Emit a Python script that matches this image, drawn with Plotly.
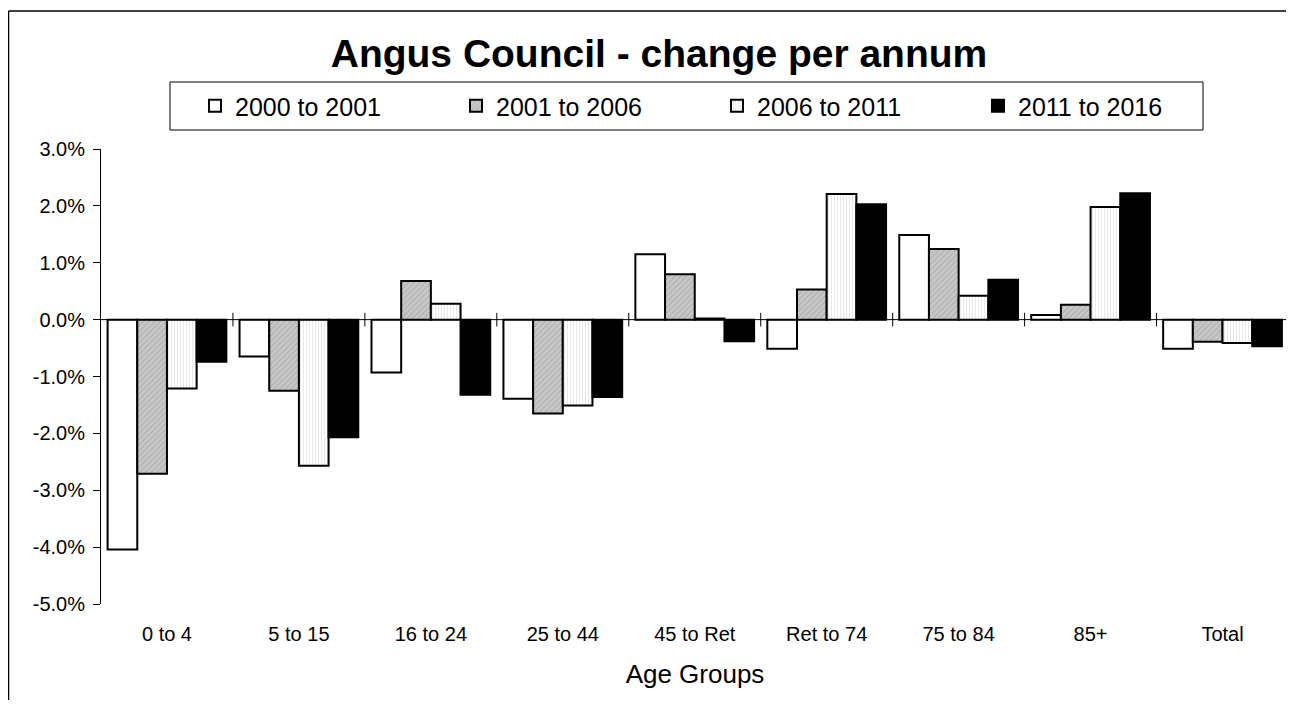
import plotly.graph_objects as go

categories = ["0 to 4", "5 to 15", "16 to 24", "25 to 44", "45 to Ret",
              "Ret to 74", "75 to 84", "85+", "Total"]
series_names = ["2000 to 2001", "2001 to 2006", "2006 to 2011", "2011 to 2016"]
s2000_2001 = [-4.04, -0.65, -0.93, -1.39, 1.15, -0.51, 1.49, 0.08, -0.51]
s2001_2006 = [-2.71, -1.25, 0.68, -1.65, 0.80, 0.53, 1.24, 0.26, -0.39]
s2006_2011 = [-1.21, -2.57, 0.28, -1.51, 0.02, 2.21, 0.42, 1.98, -0.41]
s2011_2016 = [-0.74, -2.07, -1.32, -1.36, -0.38, 2.03, 0.70, 2.22, -0.47]
y_ticks = [3.0, 2.0, 1.0, 0.0, -1.0, -2.0, -3.0, -4.0, -5.0]

FONT = "Arial, Liberation Sans, sans-serif"

styles = [
    dict(color="white", pattern=dict(shape="")),
    dict(color="#c0c0c0", pattern=dict(shape="/", bgcolor="#c8c8c8", fgcolor="#8a8a8a",
                                       size=4, solidity=0.25)),
    dict(color="white", pattern=dict(shape="|", bgcolor="#ffffff", fgcolor="#d2d2d2",
                                     size=3, solidity=0.35)),
    dict(color="black", pattern=dict(shape="")),
]

fig = go.Figure()
for name, vals, st in zip(series_names, [s2000_2001, s2001_2006, s2006_2011, s2011_2016], styles):
    fig.add_trace(go.Bar(
        x=categories, y=vals, name=name,
        marker=dict(color=st["color"], pattern=st["pattern"],
                    line=dict(color="black", width=2)),
    ))

# page has an 8px body margin; figure coordinates = page coordinates - 8
OFF = 8
W, H = 1284, 692
L, R, T, B = 93, 3, 141, 96
pw, ph = W - L - R, H - T - B
def px(x): return (x - OFF - L) / pw
def py(y): return (H - B - (y - OFF)) / ph
X_RIGHT = (W - L) / pw      # right edge of the figure in paper units
Y_BOTTOM = -B / ph          # bottom edge of the figure in paper units

shapes = []
# category boundary tick marks crossing the zero line
for i in range(1, len(categories) + 1):
    shapes.append(dict(type="line", xref="x", yref="y", x0=i - 0.5, x1=i - 0.5,
                       y0=-0.12, y1=0.12, line=dict(color="black", width=1)))
# zero line
shapes.append(dict(type="line", xref="paper", yref="y", x0=0, x1=1, y0=0, y1=0,
                   line=dict(color="black", width=1), layer="above"))
# legend box
shapes.append(dict(type="rect", xref="paper", yref="paper", x0=px(170), x1=px(1203),
                   y0=py(130), y1=py(82), line=dict(color="black", width=1)))
# outer border (left and top edges only visible)
shapes.append(dict(type="line", xref="paper", yref="paper", x0=px(8.5), x1=X_RIGHT,
                   y0=py(11), y1=py(11), line=dict(color="black", width=1.5)))
shapes.append(dict(type="line", xref="paper", yref="paper", x0=px(8.5), x1=px(8.5),
                   y0=py(11), y1=Y_BOTTOM, line=dict(color="black", width=1.5)))

fig.update_layout(
    width=W, height=H,
    margin=dict(l=L, r=R, t=T, b=B, autoexpand=False),
    paper_bgcolor="white", plot_bgcolor="white",
    barmode="group", bargap=0.1, bargroupgap=0,
    font=dict(family=FONT, color="black", size=20),
    title=dict(text="<b>Angus Council - change per annum</b>",
               x=(659 - OFF) / W, xref="container", xanchor="center",
               y=1 - (53 - OFF) / H, yref="container", yanchor="middle",
               font=dict(family=FONT, size=39, color="black")),
    legend=dict(orientation="h", x=px(195), xanchor="left", y=py(106), yanchor="middle",
                font=dict(family=FONT, size=25), entrywidth=216, entrywidthmode="pixels",
                bgcolor="rgba(0,0,0,0)", borderwidth=0, itemsizing="constant",
                traceorder="normal"),
    shapes=shapes,
    xaxis=dict(showline=False, ticks="", showgrid=False, zeroline=False,
               tickfont=dict(size=20), ticklabelstandoff=16,
               title=dict(text="Age Groups", font=dict(size=26), standoff=20)),
    yaxis=dict(range=[-5.0, 3.0], tickvals=y_ticks,
               ticktext=[f"{v:.1f}%" for v in y_ticks],
               showline=True, linecolor="black", linewidth=1,
               ticks="outside", ticklen=7, tickcolor="black",
               ticklabelstandoff=4,
               showgrid=False, zeroline=False, tickfont=dict(size=20)),
    yaxis2=dict(range=[-5.0, 3.0], tickvals=y_ticks, overlaying="y", anchor="x",
                side="left", showticklabels=False, showline=False, showgrid=False,
                zeroline=False, ticks="inside", ticklen=6, tickcolor="black"),
)

fig.write_html("out.html")
